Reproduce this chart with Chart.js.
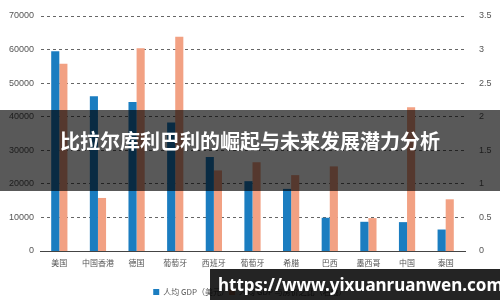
<!DOCTYPE html>
<html>
<head>
<meta charset="utf-8">
<script src="https://cdn.jsdelivr.net/npm/chart.js"></script>
<style>
  body { margin: 0; background: #fff; }
  #wrap { position: relative; width: 500px; height: 300px; overflow: hidden; }
  #band { position: absolute; left: 0; top: 110px; width: 500px; height: 81px; background: rgba(0,0,0,0.65); }
  #title { position: absolute; left: 0; top: 126px; width: 500px; text-align: center; color: #fff;
           font: bold 20px "Noto Sans CJK SC", sans-serif; line-height: 30px; }
  #url { position: absolute; left: 210px; top: 269px; width: 290px; height: 31px; background: rgba(0,0,0,0.86);
         color: #fff; font: bold 17px "Noto Sans", "DejaVu Sans", sans-serif; line-height: 31px; padding-left: 8px; box-sizing: border-box; }
</style>
</head>
<body>
<div id="wrap">
  <canvas id="canvas" width="500" height="300"></canvas>
  <div id="band"></div>
  <div id="title">比拉尔库利巴利的崛起与未来发展潜力分析</div>
  <div id="url">https://www.yixuanruanwen.com</div>
</div>

<script>
var countries = ['美国', '中国香港', '德国', '葡萄牙', '西班牙', '葡萄牙', '希腊', '巴西', '墨西哥', '中国', '泰国'];
var gdpPerCapita = [59500, 46100, 44400, 38300, 28000, 20800, 18500, 9900, 8700, 8600, 6400];
var ratioValues = [2.79, 0.79, 3.02, 3.19, 1.20, 1.32, 1.13, 1.26, 0.49, 2.14, 0.77];
var leftTicks = [0, 10000, 20000, 30000, 40000, 50000, 60000, 70000];
var rightTicks = [0, 0.5, 1, 1.5, 2, 2.5, 3, 3.5];

var gridColor = '#666';
var tickFont = { family: 'Liberation Sans, sans-serif', size: 9 };

var ctx = document.getElementById('canvas');
new Chart(ctx, {
  type: 'bar',
  data: {
    labels: countries,
    datasets: [
      { label: '人均 GDP（美元）', data: gdpPerCapita, yAxisID: 'y', backgroundColor: '#1b7dc0' },
      { label: '人均 GDP 与房价之比（右轴）', data: ratioValues, yAxisID: 'y1', backgroundColor: '#f2a183' }
    ]
  },
  options: {
    responsive: false,
    animation: false,
    categoryPercentage: 0.42,
    barPercentage: 1.0,
    layout: { padding: { top: 16, right: 0, left: 0, bottom: -6 } },
    plugins: {
      legend: {
        position: 'bottom',
        labels: {
          boxWidth: 6, boxHeight: 6, color: '#555', padding: 0,
          font: { family: 'Noto Sans CJK SC, sans-serif', size: 8 }
        }
      },
      tooltip: { enabled: false }
    },
    scales: {
      x: {
        afterFit: function (axis) { axis.height = 37; },
        grid: { display: false, drawTicks: false },
        border: { color: '#444', width: 1 },
        ticks: { color: '#555', padding: 7, maxRotation: 0, autoSkip: false,
                 font: { family: 'Noto Sans CJK SC, sans-serif', size: 8 } }
      },
      y: {
        position: 'left',
        min: 0, max: 70000,
        afterFit: function (axis) { axis.width = 40; },
        afterBuildTicks: function (axis) { axis.ticks = leftTicks.map(function (v) { return { value: v }; }); },
        grid: { color: gridColor, drawTicks: false, lineWidth: function (c) { return c.tick.value === 0 ? 0 : 1; } },
        border: { display: true, color: 'rgba(0,0,0,0)', dash: [3, 3] },
        ticks: { color: '#555', padding: 6, font: tickFont, callback: function (v) { return String(v); } }
      },
      y1: {
        position: 'right',
        min: 0, max: 3.5,
        afterFit: function (axis) { axis.width = 35; },
        afterBuildTicks: function (axis) { axis.ticks = rightTicks.map(function (v) { return { value: v }; }); },
        grid: { display: false },
        border: { display: false },
        ticks: { color: '#555', padding: 6, font: tickFont, callback: function (v) { return String(v); } }
      }
    }
  }
});
</script>
</body>
</html>
